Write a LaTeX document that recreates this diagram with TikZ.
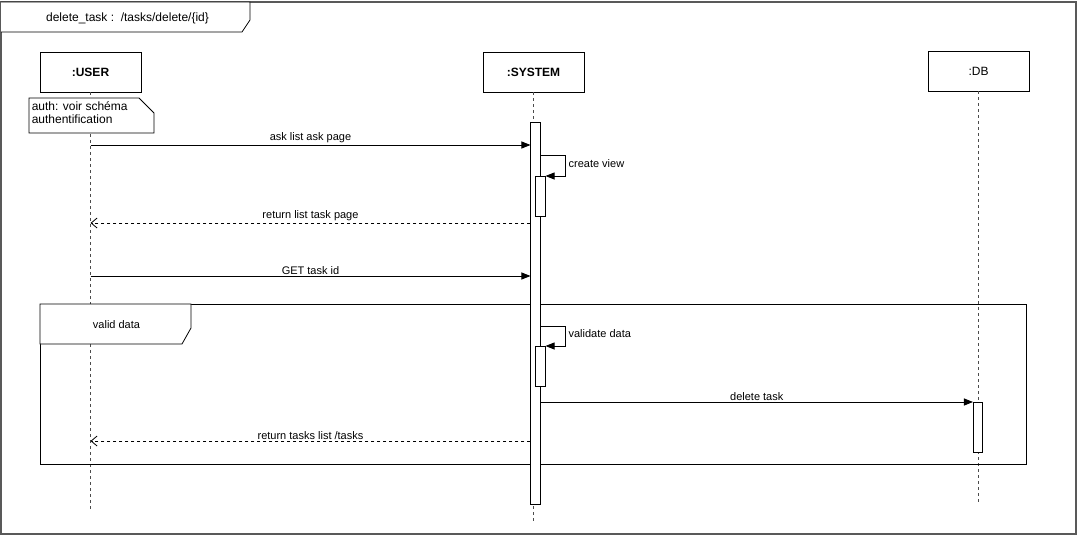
\documentclass[tikz,border=0pt]{standalone}
\usepackage{fontspec}
\setmainfont{Liberation Sans}
\usetikzlibrary{arrows.meta,calc}
\begin{document}
\begin{tikzpicture}[x=0.75pt,y=-0.75pt,
  every node/.style={font=\fontsize{8.25}{10}\selectfont},
  actor/.style={draw, fill=white, minimum width=0.75pt*101, minimum height=0.75pt*40, inner sep=0pt, font=\fontsize{9}{11}\selectfont},
  actbar/.style={draw, fill=white, minimum width=0.75pt*9.5, inner sep=0pt, anchor=north},
  life/.style={draw=black!70, dash pattern=on 2.25pt off 2.25pt, line width=0.6pt},
  msg/.style={draw, line width=0.6pt, -{Triangle[length=0.75pt*9,width=0.75pt*7]}},
  ret/.style={draw, line width=0.6pt, dash pattern=on 2.25pt off 2.25pt, -{Straight Barb[length=0.75pt*6,width=0.75pt*10]}},
  lbl/.style={fill=white, inner sep=1pt, anchor=south},
  slbl/.style={fill=white, inner sep=1pt, anchor=west},
  frm/.style={draw, line width=0.6pt}
]
\useasboundingbox (0,0) rectangle (1082,542);
% outer frame
\draw[black!65, line width=1.2pt, fill=white] (1,2) rectangle (1076,534);
\draw[frm, fill=white] (1,2) -- (250,2) -- (250,20) -- (242,32) -- (1,32);
\node[font=\fontsize{9}{11}\selectfont] (title) at (127.5,18) {delete\_task :\ \ /tasks/delete/\{id\}};

% actors
\node[actor, font=\fontsize{9}{11}\selectfont\bfseries] (user) at (90.5,72) {:USER};
\node[actor, font=\fontsize{9}{11}\selectfont\bfseries] (sys) at (533.5,72) {:SYSTEM};
\node[actor] (db) at (978.5,71) {:DB};

\coordinate (uend) at (90.5,512);
\coordinate (send) at (533.5,524);
\coordinate (dend) at (978.5,503);
\draw[life] (user.south) -- (uend);
\draw[life] (sys.south) -- (send);
\draw[life] (db.south) -- (dend);

% note
\draw[frm, fill=white] (29,98) -- (139,98) -- (154,113) -- (154,133) -- (29,133) -- cycle;
\node[anchor=north west, align=left, inner sep=0pt, font=\fontsize{9}{9.75}\selectfont] (note) at (31.5,101) {auth: voir schéma\\authentification};

% valid data fragment
\draw[frm] (40,304) rectangle (1026,464);
\draw[frm, fill=white] (40,304) -- (191,304) -- (191,328) -- (182,344) -- (40,344) -- cycle;
\node (vd) at (116.5,325) {valid data};

% activations
\node[actbar, minimum height=0.75pt*382] (a0) at (535.5,122) {};
\node[actbar, minimum height=0.75pt*40] (a1) at (540.5,176) {};
\node[actbar, minimum height=0.75pt*40] (a2) at (540.5,346) {};
\node[actbar, minimum height=0.75pt*50] (a3) at (978,402) {};

% messages
\coordinate (m1) at (90.5,145);
\draw[msg] (m1) -- (a0.west |- m1) node[lbl, pos=0.5] {ask list ask page};

\coordinate (s1) at (540.5,155);
\coordinate (s1r) at (565.5,155);
\draw[line width=0.6pt, -{Triangle[length=0.75pt*9,width=0.75pt*7]}] (a0.east |- s1) -- (s1r) -- (s1r |- a1.north) -- (a1.north east);
\node[slbl] (cv) at (567,164) {create view};

\coordinate (m2) at (90.5,223);
\draw[ret] (a0.west |- m2) -- (m2) node[lbl, pos=0.5] {return list task page};

\coordinate (m3) at (90.5,276);
\draw[msg] (m3) -- (a0.west |- m3) node[lbl, pos=0.5] {GET task id};

\coordinate (s2) at (540.5,326);
\coordinate (s2r) at (565.5,326);
\draw[line width=0.6pt, -{Triangle[length=0.75pt*9,width=0.75pt*7]}] (a0.east |- s2) -- (s2r) -- (s2r |- a2.north) -- (a2.north east);
\node[slbl] (vdm) at (567,334) {validate data};

\draw[msg] (a0.east |- a3.north) -- (a3.north west) node[lbl, pos=0.5] {delete task};

\coordinate (m5) at (90.5,441);
\draw[ret] (a0.west |- m5) -- (m5) node[lbl, pos=0.5] {return tasks list /tasks};
\end{tikzpicture}
\end{document}
